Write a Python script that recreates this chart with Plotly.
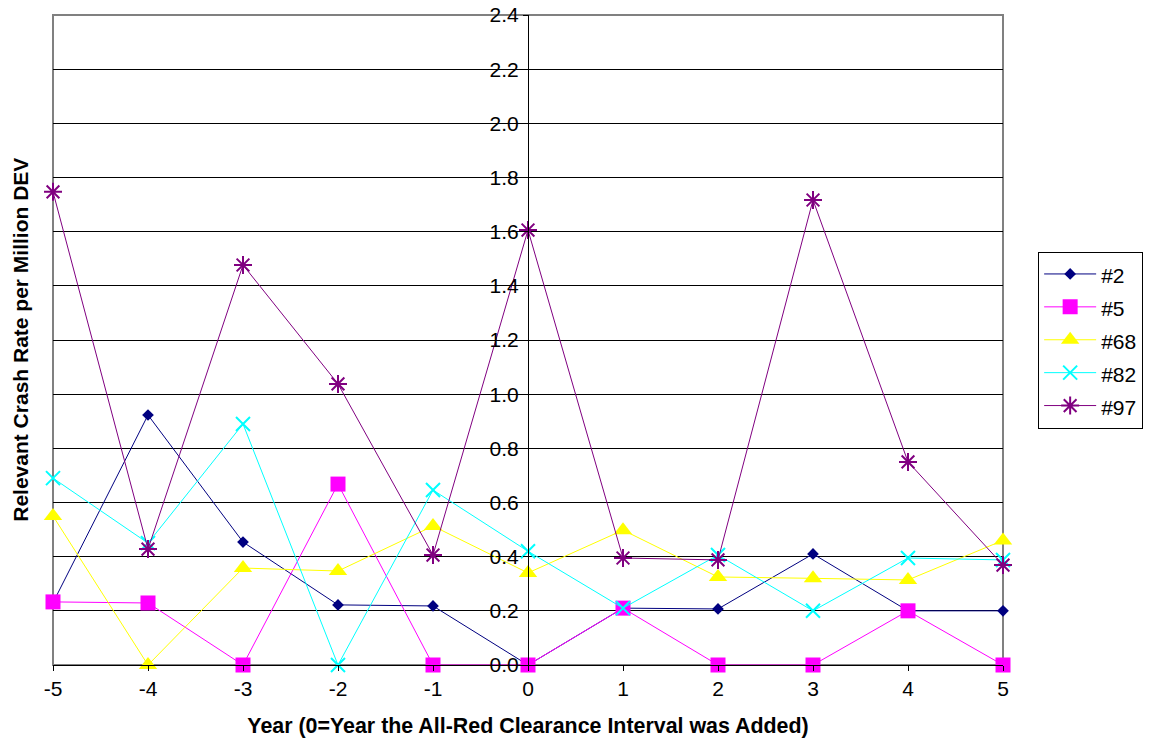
import plotly.graph_objects as go

years = [-5, -4, -3, -2, -1, 0, 1, 2, 3, 4, 5]
year_labels = ["-5", "-4", "-3", "-2", "-1", "0", "1", "2", "3", "4", "5"]
s2 = [0.23, 0.923, 0.454, 0.222, 0.218, 0.0, 0.21, 0.207, 0.41, 0.2, 0.2]
s5 = [0.233, 0.229, 0.0, 0.668, 0.0, 0.0, 0.21, 0.0, 0.0, 0.2, 0.0]
s68 = [0.55, 0.0, 0.358, 0.347, 0.513, 0.34, 0.498, 0.325, 0.32, 0.314, 0.46]
s82 = [0.69, 0.45, 0.89, 0.0, 0.646, 0.42, 0.21, 0.406, 0.2, 0.395, 0.388]
s97 = [1.747, 0.428, 1.477, 1.038, 0.406, 1.606, 0.395, 0.388, 1.717, 0.75, 0.369]
y_ticks = [0.0, 0.2, 0.4, 0.6, 0.8, 1.0, 1.2, 1.4, 1.6, 1.8, 2.0, 2.2, 2.4]
series_names = ["#2", "#5", "#68", "#82", "#97"]

FONT = "Liberation Sans, Arial, sans-serif"
FS = 21

styles = [
    ("#000080", dict(symbol="diamond", size=9, color="#000080")),
    ("#FF00FF", dict(symbol="square", size=15, color="#FF00FF")),
    ("#FFFF00", dict(symbol="triangle-up", size=16, color="#FFFF00")),
    ("#00FFFF", dict(symbol="x-thin-open", size=14, color="#00FFFF",
                     line=dict(width=2, color="#00FFFF"))),
    ("#800080", dict(symbol="asterisk-open", size=15, color="#800080",
                     line=dict(width=2, color="#800080"))),
]

fig = go.Figure()
for name, vals, (col, mk) in zip(series_names, [s2, s5, s68, s82, s97], styles):
    fig.add_trace(go.Scatter(x=years, y=vals,
                             name=f"<span style='font-size:{FS}px'>{name}</span>",
                             mode="lines+markers",
                             line=dict(color=col, width=1), marker=mk, cliponaxis=False))

fig.update_layout(
    width=1149, height=751,
    margin=dict(l=53, r=146, t=15, b=86, autoexpand=False),
    paper_bgcolor="white", plot_bgcolor="white",
    font=dict(family=FONT, size=FS, color="black"),
    showlegend=True,
    legend=dict(x=1.037, y=0.5, xanchor="left", yanchor="middle",
                bordercolor="black", borderwidth=1, bgcolor="white",
                font=dict(size=23), itemwidth=52, tracegroupgap=0),
    xaxis=dict(range=[-5, 5], tickvals=years, ticktext=year_labels,
               ticks="outside", ticklen=5, automargin=False,
               tickcolor="black", showgrid=False, zeroline=False,
               showline=True, linecolor="black", linewidth=1,
               tickfont=dict(size=FS),
               title=dict(text="<b>Year (0=Year the All-Red Clearance Interval was Added)</b>",
                          font=dict(size=21.4), standoff=18)),
    yaxis=dict(range=[0, 2.4], tickvals=y_ticks, tickformat=".1f",
               anchor="free", position=0.5, ticks="outside", ticklen=5,
               automargin=False, ticklabeloverflow="allow",
               tickcolor="black", showline=True, linecolor="black", linewidth=1,
               showgrid=True, gridcolor="black", gridwidth=1, zeroline=False,
               tickfont=dict(size=FS)),
)

fig.add_shape(type="rect", xref="paper", yref="paper", x0=0, x1=1, y0=0, y1=1,
              line=dict(color="#808080", width=2), layer="below")

fig.add_annotation(text="<b>Relevant Crash Rate per Million DEV</b>", xref="paper", yref="paper",
                   x=-0.035, y=0.5, textangle=-90, showarrow=False,
                   font=dict(size=FS), xanchor="center", yanchor="middle")

fig.write_html("out.html", config={"displayModeBar": False},
               post_script="document.body.style.margin='0';document.body.style.overflow='hidden';")
